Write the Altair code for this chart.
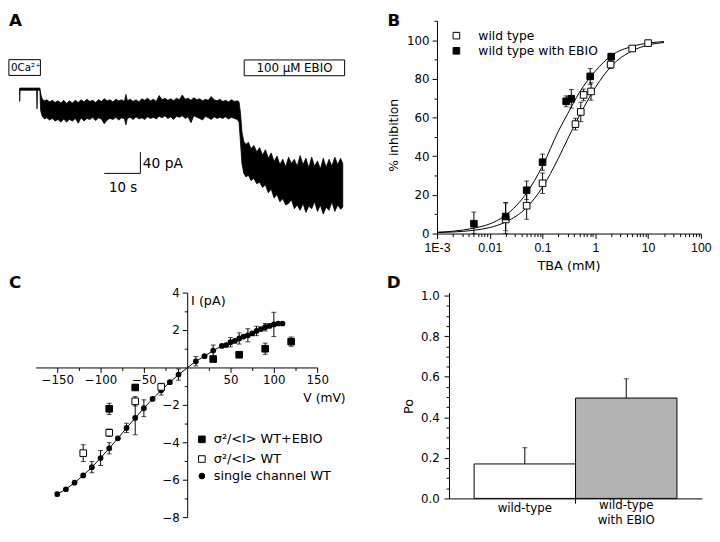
import altair as alt
import pandas as pd

FONT = "DejaVu Sans"
FONT_NARROW = "Liberation Sans"

# ---------------- Panel A: current trace (envelope) ----------------
trace_t = [0, 0.1, 4.7, 4.8, 4.9, 5.6,
           5.8, 6.2, 6.8, 7.5, 8.3, 9.0, 9.8, 10.6, 11.4, 12.2,
           13.0, 13.8, 14.6, 15.4, 16.2, 17.0, 17.8, 18.6, 19.4, 20.2,
           21.0, 21.8, 22.6, 23.4, 24.2, 25.0, 25.8, 26.6, 27.4, 28.2,
           29.0, 29.4, 29.8, 30.6, 31.4, 32.2, 33.0, 33.8, 34.6, 35.4,
           36.2, 37.0, 37.8, 38.6, 39.4, 40.2, 41.0, 41.8, 42.6, 43.4,
           44.2, 45.0, 45.8, 46.6, 47.4, 48.2, 49.0, 49.8, 50.6, 51.4,
           52.2, 53.0, 53.8, 54.6, 55.4, 56.2, 57.0, 57.8, 58.6, 59.4,
           60.2, 60.7, 61.1, 61.5, 62.0, 62.6, 63.3, 64.0, 64.8, 65.6,
           66.4, 67.2, 68.0, 68.8, 69.6, 70.4, 71.2, 72.0, 72.8, 73.6,
           74.4, 75.2, 76.0, 76.8, 77.6, 78.4, 79.2, 80.0, 80.8, 81.6,
           82.4, 83.2, 84.0, 84.8, 85.6, 86.4, 87.2, 88.0, 88.8, 89.4]
trace_hi = [2, 2, 2, 2, 2, 2,
            -8, -18, -22, -20, -24, -21, -25, -22, -26, -21,
            -27, -22, -26, -21, -25, -20, -24, -19, -23, -21,
            -25, -20, -23, -18, -22, -20, -24, -19, -22, -20,
            -23, -10, -22, -19, -23, -20, -24, -18, -21, -17,
            -22, -19, -23, -12, -20, -17, -21, -18, -22, -17,
            -20, -11, -19, -17, -21, -16, -20, -18, -22, -19,
            -21, -14, -20, -22, -19, -23, -21, -24, -20, -23,
            -22, -24, -45, -80, -98, -104, -100, -112, -106, -118,
            -110, -124, -114, -130, -120, -136, -126, -142, -132, -146,
            -128, -140, -132, -145, -125, -142, -130, -148, -128, -145,
            -135, -150, -130, -147, -132, -145, -128, -142, -130, -140]
trace_lo = [-23, -2, -2, -37, -2, -2,
            -40, -50, -56, -54, -58, -55, -60, -57, -62, -56,
            -62, -57, -60, -55, -64, -54, -60, -55, -57, -53,
            -59, -54, -56, -65, -58, -55, -57, -53, -58, -54,
            -56, -67, -55, -53, -57, -52, -56, -54, -57, -52,
            -55, -53, -56, -51, -54, -50, -55, -52, -57, -51,
            -53, -50, -55, -52, -63, -50, -53, -55, -58, -51,
            -54, -57, -52, -55, -53, -55, -52, -56, -53, -55,
            -57, -62, -100, -140, -158, -165, -162, -172, -168, -178,
            -175, -185, -180, -195, -188, -205, -198, -212, -206, -218,
            -215, -208, -225, -218, -228, -215, -232, -220, -225, -212,
            -230, -218, -235, -222, -228, -212, -230, -218, -226, -222]
scalebar_t = [23.4, 33.4]        # 10 s
scalebar_i = [-158.5, -118.5]    # 40 pA

# ---------------- Panel B: TBA dose-response ----------------
wt_conc = [0.02, 0.05, 0.1, 0.42, 0.53, 0.6, 0.83, 1.95, 5, 10]
wt_inh = [7.3, 14.4, 26.0, 56.6, 62.9, 71.7, 73.5, 87.4, 95.7, 98.5]
wt_err = [8.5, 7.0, 5.3, 3.0, 5.0, 3.0, 4.5, 2.0, 1.0, 1.0]
eb_conc = [0.005, 0.02, 0.05, 0.1, 0.28, 0.35, 0.8, 2.0]
eb_inh = [5.1, 8.8, 22.4, 36.9, 68.4, 69.7, 81.3, 91.5]
eb_err = [6.0, 7.3, 4.8, 4.2, 2.8, 4.8, 4.1, 1.0]
fit_conc = [0.001, 0.002, 0.005, 0.01, 0.02, 0.05, 0.1, 0.2, 0.3, 0.5, 1, 2, 5, 10, 20]
fit_wt = [0.5, 0.8, 1.7, 3.1, 6.0, 13.5, 24.0, 39.0, 49.0, 61.0, 75.5, 86.5, 94.5, 97.5, 98.8]
fit_eb = [0.7, 1.2, 2.8, 5.0, 9.5, 21.0, 35.0, 53.0, 62.0, 73.0, 84.0, 92.0, 96.8, 98.5, 99.3]
b_xticks = [0.001, 0.002, 0.003, 0.004, 0.005, 0.006, 0.007, 0.008, 0.009,
            0.01, 0.02, 0.03, 0.04, 0.05, 0.06, 0.07, 0.08, 0.09,
            0.1, 0.2, 0.3, 0.4, 0.5, 0.6, 0.7, 0.8, 0.9,
            1, 2, 3, 4, 5, 6, 7, 8, 9,
            10, 20, 30, 40, 50, 60, 70, 80, 90, 100]
b_yticks = [0, 10, 20, 30, 40, 50, 60, 70, 80, 90, 100, 110]

# ---------------- Panel C: I-V relation ----------------
sc_v = [-150, -140, -130, -120, -110, -100, -90, -80, -70, -60, -50, -40, -30, -20, -10,
        10, 20, 30, 40, 45, 50, 55, 60, 65, 70, 75, 80, 85, 90, 95, 100, 105, 110]
sc_i = [-6.77, -6.51, -6.16, -5.77, -5.33, -4.84, -4.32, -3.79, -3.23, -2.70, -2.18, -1.68, -1.22, -0.79, -0.38,
        0.33, 0.60, 0.90, 1.15, 1.20, 1.35, 1.42, 1.55, 1.65, 1.72, 1.82, 1.95, 2.05, 2.15, 2.22, 2.30, 2.35, 2.35]
sc_err = [0.1, 0, 0, 0, 0.3, 0.4, 0.3, 0, 0.25, 0.9, 0.45, 0, 0.25, 0, 0.3,
          0.25, 0, 0.3, 0, 0, 0.25, 0, 0.3, 0, 0.35, 0, 0.25, 0, 0.2, 0, 0.65, 0, 0]
ebn_v = [-90, -60, 30, 60, 90, 120]
ebn_i = [-2.21, -1.07, 0.45, 0.68, 1.0, 1.38]
ebn_err = [0.3, 0.1, 0, 0, 0.3, 0.25]
wtn_v = [-120, -90, -60, -30]
wtn_i = [-4.58, -3.49, -1.81, -1.04]
wtn_err = [0.45, 0.2, 0.25, 0.2]
c_xticks = [-150, -125, -100, -75, -50, -25, 25, 50, 75, 100, 125, 150]
c_yticks = [4, 3, 2, 1, -1, -2, -3, -4, -5, -6, -7, -8]

# ---------------- Panel D: open probability ----------------
groups = ["wild-type", "wild-type with EBIO"]
po = [0.17, 0.495]
po_err = [0.08, 0.095]
d_yticks = [0, 0.05, 0.1, 0.15, 0.2, 0.25, 0.3, 0.35, 0.4, 0.45, 0.5,
            0.55, 0.6, 0.65, 0.7, 0.75, 0.8, 0.85, 0.9, 0.95, 1.0]


def ax(major_test, **kw):
    base = dict(domainColor="black", tickColor="black", labelColor="black",
                labelFont=FONT, labelFontSize=12, grid=False, title=None,
                domainWidth=1, tickWidth=1, labelFlush=False, labelOverlap=False,
                tickSize={"condition": {"test": major_test, "value": 5}, "value": 3})
    base.update(kw)
    return alt.Axis(**base)


def txt(s, x, y, size=12, align="left", baseline="middle", angle=0, weight="normal"):
    kw = dict(text=s, font=FONT, fontSize=size, align=align, baseline=baseline,
              color="black", fontWeight=weight)
    if angle:
        kw["angle"] = angle
    return alt.Chart(pd.DataFrame({"k": [0]})).mark_text(**kw).encode(
        x=alt.value(x), y=alt.value(y))


def box(x1, x2, y1, y2):
    return alt.Chart(pd.DataFrame({"k": [0]})).mark_rect(
        fill="white", stroke="black", strokeWidth=1).encode(
        x=alt.value(x1), x2=alt.value(x2), y=alt.value(y1), y2=alt.value(y2))


def sym(shape, x, y, fill, size=45):
    return alt.Chart(pd.DataFrame({"k": [0]})).mark_point(
        shape=shape, filled=True, fill=fill, stroke="black", strokeWidth=1,
        size=size, opacity=1).encode(x=alt.value(x), y=alt.value(y))


# ======================= Panel A =======================
xA = alt.Scale(domain=[4.4, 90], nice=False, zero=False)
yA = alt.Scale(domain=[-271.7, 128.5], nice=False, zero=False)
dfA = pd.DataFrame({"t": trace_t, "hi": trace_hi, "lo": trace_lo})
traceA = alt.Chart(dfA).mark_area(color="black", opacity=1, stroke="black",
                                  strokeWidth=0.8).encode(
    x=alt.X("t:Q", scale=xA, axis=None),
    y=alt.Y("hi:Q", scale=yA, axis=None),
    y2="lo:Q")
sb = pd.DataFrame({"t": [scalebar_t[0], scalebar_t[1]], "t2": [scalebar_t[1], scalebar_t[1]],
                   "i": [scalebar_i[0], scalebar_i[0]], "i2": [scalebar_i[0], scalebar_i[1]]})
sbars = alt.Chart(sb).mark_rule(color="black", strokeWidth=1).encode(
    x=alt.X("t:Q", scale=xA, axis=None), x2="t2:Q",
    y=alt.Y("i:Q", scale=yA, axis=None), y2="i2:Q")
panelA = alt.layer(
    traceA, sbars,
    box(-27.1, 4.9, 39.4, 55.4), txt("0Ca²⁺", -25, 47.6, size=10.5),
    box(211.9, 313.9, 39.7, 55.7), txt("100 µM EBIO", 262.9, 47.9, size=12, align="center"),
    txt("40 pA", 108.9, 145.4, size=14), txt("10 s", 88.9, 169.4, size=13.5, align="center"),
    txt("A", -27.1, -7.3, size=17, baseline="top", weight="bold"),
).properties(width=314.2, height=216)

# ======================= Panel B =======================
xB = alt.Scale(type="log", domain=[0.001, 100], nice=False)
yB = alt.Scale(domain=[0, 110], nice=False, zero=False)
logmaj = "abs(log(datum.value)/LN10 - round(log(datum.value)/LN10)) < 0.001"
lab_expr = ("!(" + logmaj + ") ? '' : datum.value < 0.005 ? '1E-3' : datum.value < 0.05 ? '0.01' : "
            "datum.value < 0.5 ? '0.1' : datum.value < 5 ? '1' : datum.value < 50 ? '10' : '100'")
axBx = ax(logmaj, orient="bottom", values=b_xticks, labelExpr=lab_expr, labelPadding=3,
          labelFont=FONT_NARROW, labelFontSize=12.5)
axBy = ax("datum.value % 20 == 0", orient="left", values=b_yticks,
          labelExpr="datum.value % 20 == 0 ? datum.label : ''", labelPadding=3)


def XB(f):
    return alt.X(f, type="quantitative", scale=xB, axis=axBx)


def YB(f):
    return alt.Y(f, type="quantitative", scale=yB, axis=axBy)


fit_df = pd.DataFrame({"c": fit_conc, "wt": fit_wt, "eb": fit_eb})
fitWT = alt.Chart(fit_df).mark_line(color="black", strokeWidth=1, interpolate="monotone").encode(
    x=XB("c"), y=YB("wt"))
fitEB = alt.Chart(fit_df).mark_line(color="black", strokeWidth=1, interpolate="monotone").encode(
    x=XB("c"), y=YB("eb"))

dwt = pd.DataFrame({"c": wt_conc, "v": wt_inh, "e": wt_err})
deb = pd.DataFrame({"c": eb_conc, "v": eb_inh, "e": eb_err})
derr = pd.concat([dwt, deb], ignore_index=True)
derr["lo"] = (derr["v"] - derr["e"]).clip(lower=0)
derr["hi"] = derr["v"] + derr["e"]
errB = alt.Chart(derr).mark_rule(color="black", strokeWidth=1).encode(
    x=XB("c"), y=YB("lo"), y2="hi:Q")
capB1 = alt.Chart(derr).mark_tick(orient="horizontal", size=5, thickness=1, color="black").encode(
    x=XB("c"), y=YB("lo"))
capB2 = alt.Chart(derr).mark_tick(orient="horizontal", size=5, thickness=1, color="black").encode(
    x=XB("c"), y=YB("hi"))
ptsWT = alt.Chart(dwt).mark_point(shape="square", filled=True, fill="white", stroke="black",
                                  strokeWidth=1, size=45, opacity=1).encode(x=XB("c"), y=YB("v"))
ptsEB = alt.Chart(deb).mark_point(shape="square", filled=True, fill="black", stroke="black",
                                  strokeWidth=1, size=45, opacity=1).encode(x=XB("c"), y=YB("v"))
panelB = alt.layer(
    fitWT, fitEB, errB, capB1, capB2, ptsWT, ptsEB,
    sym("square", 19.7, 15, "white"), txt("wild type", 42, 15, size=12.5),
    sym("square", 19.7, 30.4, "black"), txt("wild type with EBIO", 42, 30.4, size=12.5),
    txt("% inhibition", -44, 116.2, size=12.5, align="center", angle=270),
    txt("TBA (mM)", 134, 248.7, size=13, align="center"),
    txt("B", -50.3, -7.3, size=17, baseline="top", weight="bold"),
).properties(width=268, height=216)

# ======================= Panel C =======================
xC = alt.Scale(domain=[-175, 150], nice=False, zero=False)
yC = alt.Scale(domain=[-8, 4], nice=False, zero=False)
axCx = ax("datum.value % 50 == 0", orient="bottom", offset=-152, values=c_xticks,
          labelExpr="datum.value % 50 == 0 ? datum.label : ''", labelPadding=2)
axCy = ax("datum.value % 2 == 0", orient="left", offset=-154, values=c_yticks,
          labelExpr="datum.value % 2 == 0 ? datum.label : ''", labelPadding=3)


def XC(f):
    return alt.X(f, type="quantitative", scale=xC, axis=axCx)


def YC(f):
    return alt.Y(f, type="quantitative", scale=yC, axis=axCy)


dsc = pd.DataFrame({"v": sc_v, "i": sc_i, "e": sc_err})
deb2 = pd.DataFrame({"v": ebn_v, "i": ebn_i, "e": ebn_err})
dwt2 = pd.DataFrame({"v": wtn_v, "i": wtn_i, "e": wtn_err})
dC = pd.concat([dsc, deb2, dwt2], ignore_index=True)
dC = dC[dC["e"] > 0].copy()
dC["lo"] = dC["i"] - dC["e"]
dC["hi"] = dC["i"] + dC["e"]

lineC = alt.Chart(dsc).mark_line(color="black", strokeWidth=1).encode(x=XC("v"), y=YC("i"))
errC = alt.Chart(dC).mark_rule(color="black", strokeWidth=1).encode(x=XC("v"), y=YC("lo"), y2="hi:Q")
capC1 = alt.Chart(dC).mark_tick(orient="horizontal", size=5, thickness=1, color="black").encode(
    x=XC("v"), y=YC("lo"))
capC2 = alt.Chart(dC).mark_tick(orient="horizontal", size=5, thickness=1, color="black").encode(
    x=XC("v"), y=YC("hi"))
ptsSC = alt.Chart(dsc).mark_circle(color="black", size=34, opacity=1).encode(x=XC("v"), y=YC("i"))
ptsEB2 = alt.Chart(deb2).mark_point(shape="square", filled=True, fill="black", stroke="black",
                                    strokeWidth=1, size=45, opacity=1).encode(x=XC("v"), y=YC("i"))
ptsWT2 = alt.Chart(dwt2).mark_point(shape="square", filled=True, fill="white", stroke="black",
                                    strokeWidth=1, size=45, opacity=1).encode(x=XC("v"), y=YC("i"))
panelC = alt.layer(
    lineC, errC, capC1, capC2, ptsSC, ptsEB2, ptsWT2,
    sym("square", 168.9, 149, "black"), txt("σ²/<I> WT+EBIO", 181, 149, size=13),
    sym("square", 168.9, 169, "white"), txt("σ²/<I> WT", 181, 169, size=13),
    sym("circle", 168.9, 186.3, "black", size=34), txt("single channel WT", 181, 186.3, size=13),
    txt("I (pA)", 157.9, 8.3, size=13), txt("V (mV)", 314.9, 106.7, size=12.5, align="right"),
    txt("C", -27.1, -17.3, size=17, baseline="top", weight="bold"),
).properties(width=286, height=228)

# ======================= Panel D =======================
dD = pd.DataFrame({"grp": groups, "po": po, "e": po_err})
dD["hi"] = dD["po"] + dD["e"]
xD = alt.Scale(domain=groups, paddingInner=0, paddingOuter=0.2476)
yD = alt.Scale(domain=[0, 1.015], nice=False, zero=False)
dmaj = "abs(datum.value * 5 - round(datum.value * 5)) < 0.001"
axDx = alt.Axis(orient="bottom", values=[groups[1]], bandPosition=0, labels=False, tickSize=5,
                domainColor="black", tickColor="black", grid=False, title=None,
                domainWidth=1, tickWidth=1)
axDy = ax(dmaj, orient="left", values=d_yticks,
          labelExpr="(" + dmaj + ") ? format(datum.value, '.1f') : ''", labelPadding=5)


def XD():
    return alt.X("grp:N", scale=xD, axis=axDx, sort=groups)


def YD(f):
    return alt.Y(f, type="quantitative", scale=yD, axis=axDy)


barsD = alt.Chart(dD).mark_bar(stroke="black", strokeWidth=1, opacity=1).encode(
    x=XD(), y=YD("po"),
    fill=alt.Fill("grp:N", scale=alt.Scale(domain=groups, range=["white", "#b3b3b3"]), legend=None))
errD = alt.Chart(dD).mark_rule(color="black", strokeWidth=1).encode(x=XD(), y=YD("po"), y2="hi:Q")
capD = alt.Chart(dD).mark_tick(orient="horizontal", size=5, thickness=1, color="black").encode(
    x=XD(), y=YD("hi"))
lab1 = alt.Chart(pd.DataFrame({"grp": [groups[0]], "lab": ["wild-type"]})).mark_text(
    font=FONT, fontSize=12, baseline="middle", color="black").encode(
    x=XD(), y=alt.value(219), text="lab:N")
lab2 = alt.Chart(pd.DataFrame({"grp": [groups[1]], "lab": ["wild-type"]})).mark_text(
    font=FONT, fontSize=12, baseline="middle", color="black").encode(
    x=XD(), y=alt.value(216), text="lab:N")
lab3 = alt.Chart(pd.DataFrame({"grp": [groups[1]], "lab": ["with EBIO"]})).mark_text(
    font=FONT, fontSize=12, baseline="middle", color="black").encode(
    x=XD(), y=alt.value(231), text="lab:N")
panelD = alt.layer(
    barsD, errD, capD, lab1, lab2, lab3,
    txt("Po", -41, 115.7, size=13, align="center", angle=270),
    txt("D", -63.3, -17.3, size=17, baseline="top", weight="bold"),
).properties(width=257, height=209)

top = alt.hconcat(panelA, panelB, spacing=92.7, bounds="flush")
bottom = alt.hconcat(panelC, panelD, spacing=133.9, bounds="flush")
chart = alt.vconcat(top, bottom, spacing=1, padding=0).configure_view(stroke=None)

chart.save("out.html", embed_options={"renderer": "svg", "actions": False})
